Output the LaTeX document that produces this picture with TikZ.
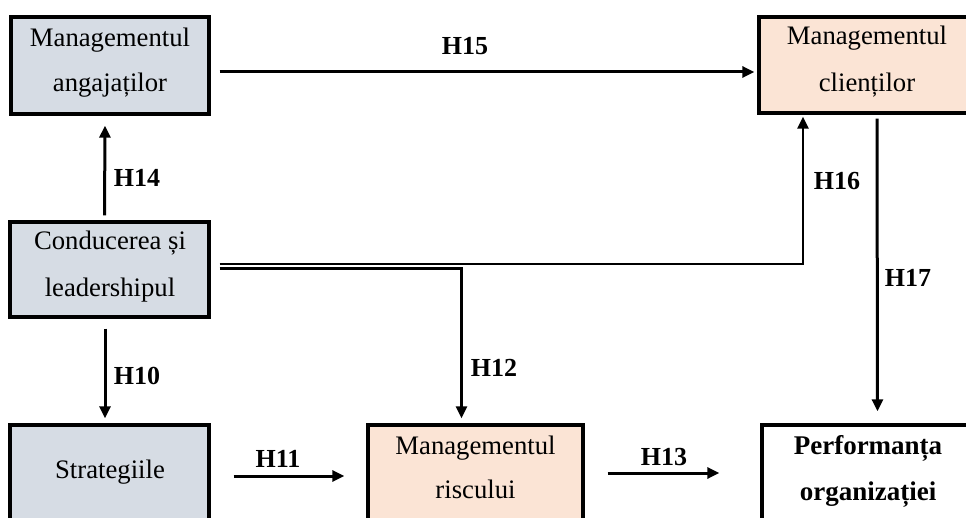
\documentclass[tikz,border=0pt]{standalone}
\usepackage{fontspec}
\setmainfont{Liberation Serif}
\usetikzlibrary{arrows.meta,calc}
\definecolor{bluegray}{HTML}{D6DCE4}
\definecolor{peach}{HTML}{FBE4D5}
\tikzset{
  boxnode/.style={draw=black, line width=3.4pt, rectangle, inner sep=0pt},
  txt/.style={anchor=base, inner sep=0pt, font=\fontsize{26.7}{30}\selectfont},
  btxt/.style={anchor=base, inner sep=0pt, font=\fontsize{27}{30}\selectfont\bfseries},
  hlab/.style={anchor=base, inner sep=0pt, font=\fontsize{26}{30}\selectfont\bfseries},
  arr/.style={draw=black, line width=3pt, -{Triangle[length=12pt,width=11pt]}},
  dline/.style={draw=black, line width=2.6pt, -{Triangle[length=12pt,width=11pt]}}
}
\begin{document}
\begin{tikzpicture}[x=1pt,y=-1pt]
\useasboundingbox (0,0) rectangle (966,518);
% boxes
\node[boxnode, fill=bluegray, minimum width=198pt, minimum height=97pt] (A) at (110,65.5) {};
\node[boxnode, fill=peach, minimum width=216pt, minimum height=96pt] (B) at (867,65) {};
\node[boxnode, fill=bluegray, minimum width=199pt, minimum height=95pt] (C) at (109.5,269.5) {};
\node[boxnode, fill=bluegray, minimum width=199pt, minimum height=100pt] (D) at (109.5,475) {};
\node[boxnode, fill=peach, minimum width=215pt, minimum height=100pt] (E) at (475.5,475) {};
\node[boxnode, fill=white, minimum width=213pt, minimum height=100pt] (F) at (868.5,475) {};
% texts
\node[txt] (a1) at (110,47) {Managementul};
\node[txt] (a2) at (110,92) {angajaților};
\node[txt] (b1) at (867,45) {Managementul};
\node[txt] (b2) at (867,92) {clienților};
\node[txt] (c1) at (110,250) {Conducerea și};
\node[txt] (c2) at (110,297) {leadershipul};
\node[txt] (d1) at (110,478) {Strategiile};
\node[txt] (e1) at (475.5,454) {Managementul};
\node[txt] (e2) at (475.5,498) {riscului};
\node[btxt] (f1) at (868,454) {Performanța};
\node[btxt] (f2) at (868,500) {organizației};
% connectors
\draw[arr] ($(A.east)+(9,6.5)$) -- ($(B.west)+(-3,7)$);
\draw[arr] ([xshift=-5pt,yshift=5pt]C.north) -- ([xshift=-5pt,yshift=-10pt]A.south);
\draw[arr] ([xshift=-4.5pt,yshift=-10pt]C.south) -- ([xshift=-4.5pt,yshift=5pt]D.north);
\draw[dline] ($(C.east)+(9,-5.5)$) -| ($(B.south)+(-64,2)$);
\draw[dline] ($(C.east)+(9,-1)$) -| ($(E.north)+(-14,-5)$);
\draw[arr] ($(B.south)+(10,4)$) -- ($(F.north)+(9,-12)$);
\draw[arr] ($(D.east)+(23,1)$) -- ($(E.west)+(-22,1)$);
\draw[arr] ($(E.east)+(23,-2)$) -- ($(F.west)+(-41,-2)$);
% labels
\node[hlab] (h15) at (465,55) {H15};
\node[hlab] (h14) at (137,187) {H14};
\node[hlab] (h10) at (137,384) {H10};
\node[hlab] (h12) at (494,377) {H12};
\node[hlab] (h16) at (837,190) {H16};
\node[hlab] (h17) at (908,287) {H17};
\node[hlab] (h11) at (278,467) {H11};
\node[hlab] (h13) at (664,465) {H13};
\end{tikzpicture}
\end{document}
